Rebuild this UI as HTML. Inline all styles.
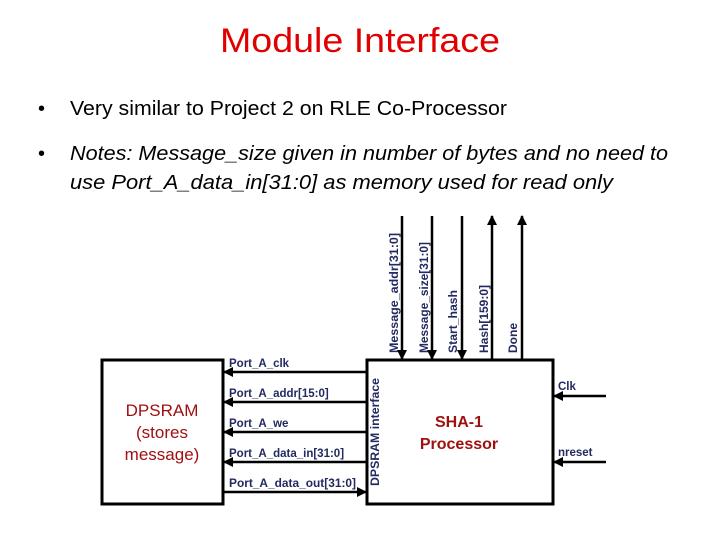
<!DOCTYPE html>
<html><head><style>html,body{margin:0;padding:0;background:#fff}svg{display:block}</style></head>
<body>
<svg width="720" height="540" viewBox="0 0 720 540" xmlns="http://www.w3.org/2000/svg">
<defs>
<marker id="a" viewBox="0 0 10 10" refX="9" refY="5" markerWidth="4" markerHeight="4" orient="auto"><path d="M0,0L10,5L0,10z" fill="#000"/></marker>
</defs>
<text x="360" y="52" text-anchor="middle" font-family="Liberation Sans, sans-serif" font-size="34" fill="#e00000" textLength="280" lengthAdjust="spacingAndGlyphs">Module Interface</text>
<g font-family="Liberation Sans, sans-serif" font-size="20" fill="#000">
<text x="38" y="115">•</text>
<text x="70" y="115" textLength="437" lengthAdjust="spacingAndGlyphs">Very similar to Project 2 on RLE Co-Processor</text>
<text x="38" y="160">•</text>
<text x="70" y="160" font-style="italic" textLength="598" lengthAdjust="spacingAndGlyphs">Notes: Message_size given in number of bytes and no need to</text>
<text x="70" y="189" font-style="italic" textLength="543" lengthAdjust="spacingAndGlyphs">use Port_A_data_in[31:0] as memory used for read only</text>
</g>
<g stroke="#000" stroke-width="3" fill="none">
<rect x="102" y="360" width="121" height="144"/>
<rect x="367" y="360" width="186" height="144"/>
</g>
<g stroke="#000" stroke-width="2.5" marker-end="url(#a)">
<line x1="367" y1="372" x2="224" y2="372"/>
<line x1="367" y1="402" x2="224" y2="402"/>
<line x1="367" y1="432" x2="224" y2="432"/>
<line x1="367" y1="462" x2="224" y2="462"/>
<line x1="223" y1="492" x2="366" y2="492"/>
<line x1="402" y1="216" x2="402" y2="359"/>
<line x1="432" y1="216" x2="432" y2="359"/>
<line x1="462" y1="216" x2="462" y2="359"/>
<line x1="492" y1="359" x2="492" y2="216"/>
<line x1="522" y1="359" x2="522" y2="216"/>
<line x1="606" y1="396" x2="554" y2="396"/>
<line x1="606" y1="462" x2="554" y2="462"/>
</g>
<g font-family="Liberation Sans, sans-serif" font-size="11.5" font-weight="bold" fill="#222a60">
<text x="229" y="367">Port_A_clk</text>
<text x="229" y="397">Port_A_addr[15:0]</text>
<text x="229" y="427">Port_A_we</text>
<text x="229" y="457">Port_A_data_in[31:0]</text>
<text x="229" y="487" textLength="127" lengthAdjust="spacingAndGlyphs">Port_A_data_out[31:0]</text>
<text x="558" y="390">Clk</text>
<text x="558" y="456">nreset</text>
<text transform="translate(379,486) rotate(-90)" textLength="108" lengthAdjust="spacingAndGlyphs">DPSRAM interface</text>
<text transform="translate(398,353) rotate(-90)" textLength="120" lengthAdjust="spacingAndGlyphs">Message_addr[31:0]</text>
<text transform="translate(428,353) rotate(-90)" textLength="111" lengthAdjust="spacingAndGlyphs">Message_size[31:0]</text>
<text transform="translate(457,353) rotate(-90)" textLength="63" lengthAdjust="spacingAndGlyphs">Start_hash</text>
<text transform="translate(488,353) rotate(-90)" textLength="68" lengthAdjust="spacingAndGlyphs">Hash[159:0]</text>
<text transform="translate(517,353) rotate(-90)" textLength="30" lengthAdjust="spacingAndGlyphs">Done</text>
</g>
<g font-family="Liberation Sans, sans-serif" text-anchor="middle" fill="#a01010">
<text x="162" y="416" font-size="17">DPSRAM</text>
<text x="162" y="438" font-size="17">(stores</text>
<text x="162" y="460" font-size="17">message)</text>
<text x="459" y="427" font-size="16" font-weight="bold">SHA-1</text>
<text x="459" y="449" font-size="16" font-weight="bold">Processor</text>
</g>
</svg>
</body></html>
